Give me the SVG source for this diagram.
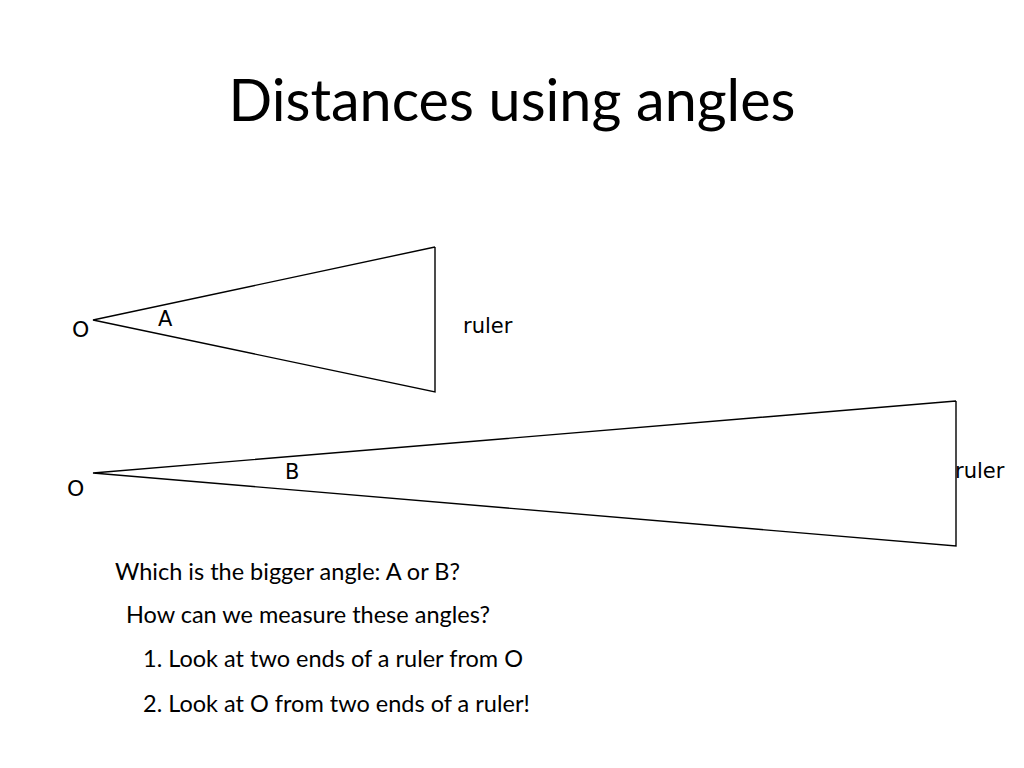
<svg xmlns="http://www.w3.org/2000/svg" width="1024" height="768" viewBox="0 0 1024 768">
<style>
.title{font-family:Lato,"Liberation Sans",sans-serif;font-size:57.5px;fill:#000}
.body{font-family:Lato,"Liberation Sans",sans-serif;font-size:23.5px;fill:#000}
.lbl{font-family:"DejaVu Sans",sans-serif;font-size:21px;fill:#000}
.tri{fill:none;stroke:#000;stroke-width:1.4;stroke-linejoin:miter}
</style>
<rect width="1024" height="768" fill="#fff"/>
<text class="title" x="512" y="121" text-anchor="middle">Distances using angles</text>
<g id="connectors">
<polyline class="tri" points="435,247 93,320 435,392 435,247"/>
<polyline class="tri" points="956,401 93,473 956,546 956,401"/>
</g>
<g id="labels">
<text class="lbl" x="72" y="337" style="font-size:22px">O</text>
<text class="lbl" x="158" y="326">A</text>
<text class="lbl" x="463" y="333">ruler</text>
<text class="lbl" x="67" y="496" style="font-size:22px">O</text>
<text class="lbl" x="285" y="479">B</text>
<text class="lbl" x="955" y="478">ruler</text>
</g>
<g id="questions">
<text class="body" x="115" y="580">Which is the bigger angle: A or B?</text>
<text class="body" x="126" y="623">How can we measure these angles?</text>
<text class="body" x="143" y="667">1. Look at two ends of a ruler from O</text>
<text class="body" x="143" y="712">2. Look at O from two ends of a ruler!</text>
</g>
</svg>
